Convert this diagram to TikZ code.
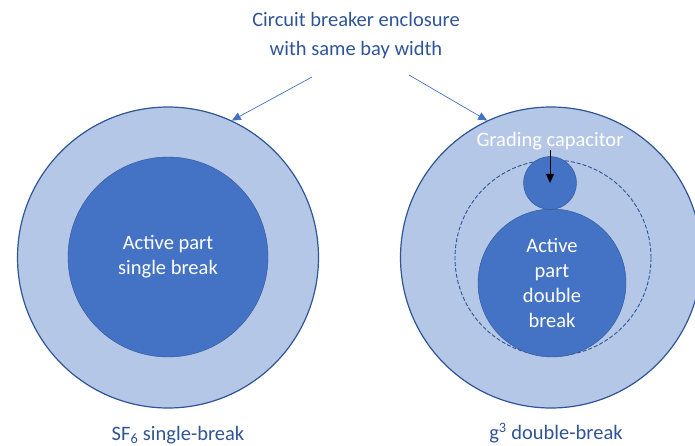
\documentclass[tikz,border=0pt]{standalone}
\usepackage{fontspec}
\setmainfont{Carlito}
\usepackage{tikz}
\usepackage{xcolor}
\usetikzlibrary{arrows.meta}
\definecolor{hellblau}{HTML}{B4C7E7}
\definecolor{mittelblau}{HTML}{4472C4}
\definecolor{dunkelblau}{HTML}{2F5597}
\tikzstyle{huelle} = [circle, draw=dunkelblau, line width=1.2pt, fill=hellblau, inner sep=0pt]
\tikzstyle{aktiv} = [circle, draw=dunkelblau, thin, fill=mittelblau, text=white, align=center, inner sep=0pt]
\tikzstyle{grenze} = [circle, draw=dunkelblau, line width=0.9pt, dash pattern=on 4pt off 2pt, inner sep=0pt]
\tikzstyle{schrift} = [text=dunkelblau, align=center]
\tikzstyle{zeiger} = [->, draw=mittelblau, line width=0.7pt]

\begin{document}
\begin{tikzpicture}[x=1pt,y=-1pt,>={Triangle[length=9pt,width=8pt]},font=\fontsize{20.5}{25}\selectfont]
  \useasboundingbox (0,0) rectangle (695,446);
  \clip (0,0) rectangle (695,446);

  % links: SF6
  \node[huelle, minimum size=301pt] (huelle_links) at (168,257.5) {};
  \node[aktiv, minimum size=200pt] (aktiv_links) at (168,257) {Active part\\single break};

  % rechts: g3
  \node[huelle, minimum size=301pt] (huelle_rechts) at (551,257.5) {};
  \node[grenze, minimum size=196pt] (grenze) at (553,258) {};
  \node[aktiv, minimum size=148pt] (aktiv_rechts) at (552,283) {Active\\part\\double\\break};
  \node[aktiv, minimum size=53pt] (kond) at (550,183) {};
  \node[text=white] (kond_text) at (550,141.5) {Grading capacitor};

  % Beschriftungen
  \node[schrift, font=\fontsize{20.5}{29}\selectfont] (titel) at (356,36) {Circuit breaker enclosure\\with same bay width};
  \node[schrift] (name_links) at (178,435) {SF\textsubscript{6} single-break};
  \node[schrift] (name_rechts) at (556,433) {g\textsuperscript{3} double-break};

  \coordinate (start_links) at (312,77);
  \coordinate (start_rechts) at (409,75);

  \draw[zeiger] (start_links) -- (huelle_links.65);
  \draw[zeiger] (start_rechts) -- (huelle_rechts.115);
  \draw[->, black, line width=0.8pt] (550,150) -- (kond.center);
\end{tikzpicture}
\end{document}
